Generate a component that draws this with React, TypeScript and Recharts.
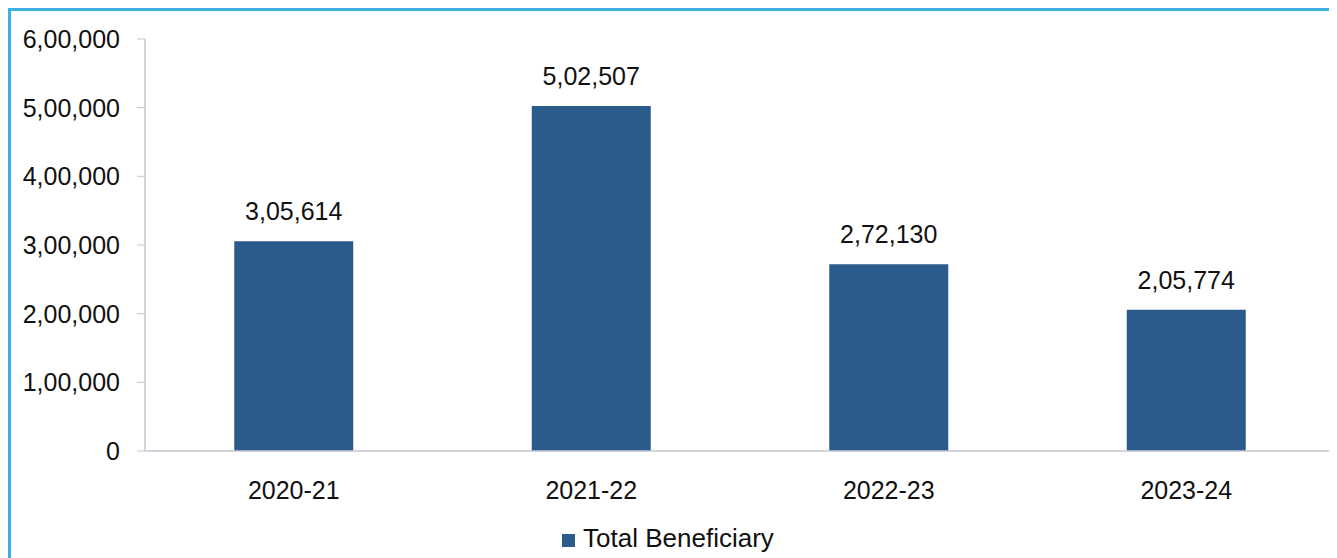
import { Bar, BarChart, LabelList, Legend, XAxis, YAxis } from "recharts";

const years = ["2020-21", "2021-22", "2022-23", "2023-24"];
const beneficiaries = [305614, 502507, 272130, 205774];
const yTicks = [0, 100000, 200000, 300000, 400000, 500000, 600000];

const BAR = "#2b5b8b";
const AXIS = "#c6c6d2";
const INK = "#111";
const FONT = "'Liberation Sans', Arial, sans-serif";

// Indian digit grouping: 5,02,507
function formatIN(v: number): string {
  const s = String(Math.round(v));
  if (s.length <= 3) return s;
  const last3 = s.slice(-3);
  let rest = s.slice(0, -3);
  const parts: string[] = [];
  while (rest.length > 2) {
    parts.unshift(rest.slice(-2));
    rest = rest.slice(0, -2);
  }
  if (rest) parts.unshift(rest);
  return `${parts.join(",")},${last3}`;
}

const rows = years.map((year, i) => ({ year, total: beneficiaries[i] }));

export default function App() {
  return (
    <div
      style={{
        width: 1329,
        height: 550,
        borderTop: "3px solid #3fb0e2",
        borderLeft: "3px solid #3fb0e2",
        boxSizing: "border-box",
        background: "#fff",
        fontFamily: FONT,
      }}
    >
      <BarChart
        width={1326}
        height={547}
        data={rows}
        margin={{ top: 28, right: 2, bottom: 4, left: 0 }}
        barCategoryGap="30%"
      >
        <XAxis
          dataKey="year"
          height={72}
          tickLine={false}
          tickMargin={24}
          axisLine={{ stroke: AXIS, strokeWidth: 1.5 }}
          tick={{ fill: INK, fontSize: 25, fontFamily: FONT }}
        />
        <YAxis
          width={134}
          domain={[0, 600000]}
          ticks={yTicks}
          interval={0}
          tickFormatter={formatIN}
          tickSize={8}
          tickMargin={17}
          tickLine={{ stroke: AXIS }}
          axisLine={{ stroke: AXIS, strokeWidth: 1.5 }}
          tick={{ fill: INK, fontSize: 25, fontFamily: FONT }}
        />
        <Legend
          verticalAlign="bottom"
          iconType="square"
          iconSize={13}
          wrapperStyle={{ fontSize: 26, fontFamily: FONT }}
          formatter={(value) => <span style={{ color: INK, marginLeft: 4 }}>{value}</span>}
        />
        <Bar dataKey="total" name="Total Beneficiary" fill={BAR} isAnimationActive={false}>
          <LabelList
            dataKey="total"
            position="top"
            offset={21}
            formatter={(v) => formatIN(Number(v))}
            style={{ fill: INK, fontSize: 25, fontFamily: FONT }}
          />
        </Bar>
      </BarChart>
    </div>
  );
}
